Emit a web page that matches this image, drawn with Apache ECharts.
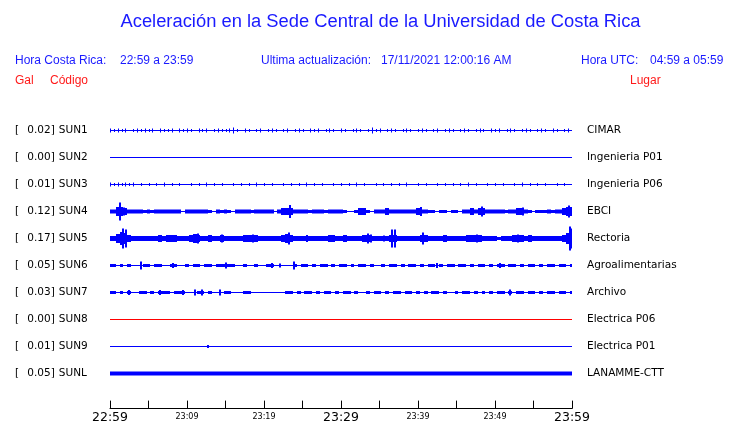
<!DOCTYPE html>
<html>
<head>
<meta charset="utf-8">
<script src="https://cdn.jsdelivr.net/npm/echarts@6/dist/echarts.min.js"></script>
<style>
html,body{margin:0;padding:0;background:#fff;}
#chart{width:740px;height:423px;}
</style>
</head>
<body>
<div id="chart"></div>
<script>
// ---------------- data ----------------
const codes  = ['SUN1','SUN2','SUN3','SUN4','SUN5','SUN6','SUN7','SUN8','SUN9','SUNL'];
const peakGal = ['0.02','0.00','0.01','0.12','0.17','0.05','0.03','0.00','0.01','0.05'];
const places = ['CIMAR','Ingenieria P01','Ingenieria P06','EBCI','Rectoria','Agroalimentarias','Archivo','Electrica P06','Electrica P01','LANAMME-CTT'];
const xTickLabels = ['22:59','23:09','23:19','23:29','23:39','23:49','23:59']; // every 10 minutes
const SAMPLE_STEP = 0.5; // minutes between envelope samples (121 samples, 0..60 min)

// envelope heights (one char per sample, base-36 digit = trace height)
const envSUN1 = "4343403434"+"3404334043"+"4304340343"+"3463043034"+"0343034034"+"3043403430"+"4303430363"+"4034303430"+"3430340343"+"0343034304"+"3403430343"+"0343043034"+"3";
const envSUN2 = "0000000000"+"0000000000"+"0000000000"+"0000000000"+"0000000000"+"0000000000"+"0000000000"+"0000000000"+"0000000000"+"0000000000"+"0000000000"+"0000000000"+"0";
const envSUN3 = "4343434030"+"3030403030"+"0303040303"+"0030303040"+"3030030303"+"0403030030"+"3030403003"+"0303030400"+"3030030303"+"0304030030"+"3030030403"+"0303003030"+"3";
const envSUN4 = "4499744443"+"4344444440"+"4444443043"+"4304444344"+"4440477744"+"4434443444"+"4300377304"+"4474444444"+"7443303303"+"3044747744"+"4443447743"+"0333434479"+"9";
const envSUN5 = "559db75555"+"5557577755"+"5797557557"+"5555577775"+"5555579755"+"5555555775"+"5755557755"+"5557755555"+"5775555755"+"5557777555"+"5355577757"+"555555557b"+"d";
const envSUN6 = "3303030003"+"3033003300"+"3033033033"+"3330030030"+"0330000030"+"3303033030"+"3303033030"+"0303303033"+"0303303033"+"0330303303"+"0330330303"+"3030330330"+"3";
const envSUN7 = "3303030033"+"0303330333"+"0003303000"+"3300033000"+"0000003303"+"0330303303"+"0330300303"+"3030330330"+"3030330300"+"3033030303"+"0330303303"+"30303303303";
const envSUN8 = "0000000000"+"0000000000"+"0000000000"+"0000000000"+"0000000000"+"0000000000"+"0000000000"+"0000000000"+"0000000000"+"0000000000"+"0000000000"+"0000000000"+"0";
const envSUN9 = "0000000000"+"0000000000"+"0000000000"+"0000000000"+"0000000000"+"0000000000"+"0000000000"+"0000000000"+"0000000000"+"0000000000"+"0000000000"+"0000000000"+"0";
const envSUNL = "4444444444"+"4444444444"+"4444444444"+"4444444444"+"4444444444"+"4444444444"+"4444444444"+"4444444444"+"4444444444"+"4444444444"+"4444444444"+"4444444444"+"4";

// isolated peaks: [minute, height]
const spikesSUN1 = [];
const spikesSUN2 = [];
const spikesSUN3 = [];
const spikesSUN4 = [[1.3,18],[1.8,8],[23.4,13],[40.4,9],[48.3,10],[53.6,8],[59.6,12]];
const spikesSUN5 = [[1.65,20],[2.08,18],[11.4,10],[14.6,8],[18.6,8],[23.2,12],[25.6,7],[33.5,10],[33.9,8],[35.6,6],[36.6,18],[37.0,18],[40.6,12],[47.7,8],[53.0,8],[59.7,24],[60,20]];
const spikesSUN6 = [[4.0,8],[8.2,5],[15.1,6],[21.0,5],[22.1,4],[23.9,8],[42.5,5],[50.6,5]];
const spikesSUN7 = [[2.5,5],[6.5,5],[9.5,5],[11,6],[12,6],[14.3,6],[52,6]];
const spikesSUN8 = [];
const spikesSUN9 = [[12.7,3]];
const spikesSUNL = [];

const envelopes = [envSUN1,envSUN2,envSUN3,envSUN4,envSUN5,envSUN6,envSUN7,envSUN8,envSUN9,envSUNL];
const spikes = [spikesSUN1,spikesSUN2,spikesSUN3,spikesSUN4,spikesSUN5,spikesSUN6,spikesSUN7,spikesSUN8,spikesSUN9,spikesSUNL];

// ---------------- style ----------------
const BLUE = '#0000ff', RED = '#ff0000';
const traceColor = [BLUE,BLUE,BLUE,BLUE,BLUE,BLUE,BLUE,RED,BLUE,BLUE];
const traceMode  = ['tick','tick','tick','block','block','block','block','tick','tick','block'];
const AMP_UNIT = 1/27;   // height unit in rows
const HEAD_BLUE = '#1a1aff', HEAD_RED = '#ff1a1a';
const FONT = 'DejaVu Sans';
const HFONT = 'Liberation Sans';

const chart = echarts.init(document.getElementById('chart'), null, {renderer:'canvas'});

function envRender(mode, color){
  return function(params, api){
    const h = api.value(2);
    if (!(h > 0)) return null;
    const p = api.coord([api.value(0), api.value(1)]);
    const cs = params.coordSys;
    const hp = Math.round(api.size([0, h*AMP_UNIT])[1]);
    let x0, x1;
    if (mode === 'tick') { x0 = Math.round(p[0]); x1 = x0 + 1; }
    else {
      const w = api.size([SAMPLE_STEP, 0])[0];
      x0 = Math.round(p[0] - w/2); x1 = Math.round(p[0] + w/2);
    }
    x0 = Math.max(x0, Math.round(cs.x)); x1 = Math.min(x1, Math.round(cs.x + cs.width));
    if (x1 <= x0) return null;
    return {type:'rect', shape:{x:x0, y:p[1]-hp/2, width:x1-x0, height:hp}, style:{fill:color}};
  };
}
function spikeRender(color){
  return function(params, api){
    const p = api.coord([api.value(0), api.value(1)]);
    const cs = params.coordSys;
    const hp = Math.round(api.size([0, api.value(2)*AMP_UNIT])[1]);
    let x0 = Math.round(p[0]) - 1;
    x0 = Math.min(Math.max(x0, Math.round(cs.x)), Math.round(cs.x + cs.width) - 2);
    return {type:'rect', shape:{x:x0, y:p[1]-hp/2, width:2, height:hp}, style:{fill:color}};
  };
}

const series = [];
codes.forEach((c, k) => {
  const row = k + 1;
  const color = traceColor[k];
  series.push({
    type:'line', data:[[0,row],[60,row]], symbol:'none', silent:true,
    lineStyle:{width:1, color:color}, animation:false, z:2
  });
  const envData = envelopes[k].split('').map((ch, i) => [i*SAMPLE_STEP, row, parseInt(ch, 36)]);
  series.push({
    type:'custom', renderItem: envRender(traceMode[k], color), data: envData,
    silent:true, animation:false, z:3
  });
  if (spikes[k].length) {
    series.push({
      type:'custom', renderItem: spikeRender(color),
      data: spikes[k].map(s => [s[0], row, s[1]]), silent:true, animation:false, z:4
    });
  }
});

function rowIndex(v){
  const k = Math.round(v);
  if (Math.abs(v - k) > 1e-6 || k < 1 || k > codes.length) return -1;
  return k - 1;
}

function htext(text, x, y, color, size, align){
  return {type:'text', x:x, y:y, silent:true,
    style:{text:text, fill:color, font: size + 'px "' + HFONT + '"', fontSize:size, fontFamily:HFONT,
      align: align || 'left', textAlign: align || 'left', verticalAlign:'middle', textVerticalAlign:'middle'}};
}

const option = {
  animation:false,
  backgroundColor:'#ffffff',
  grid:{left:110, width:462, top:103.5, height:305.1, containLabel:false, outerBoundsMode:'none'},
  xAxis:{
    type:'value', min:0, max:60, interval:5,
    axisLine:{show:true, onZero:false, lineStyle:{color:'#000', width:1}},
    axisTick:{show:true, inside:true, length:8, lineStyle:{color:'#000', width:1}},
    splitLine:{show:false},
    axisLabel:{
      show:true, margin:3, showMinLabel:true, showMaxLabel:true, hideOverlap:false,
      formatter:function(v){
        if (Math.abs(v % 10) > 1e-6) return '';
        const idx = Math.round(v/10);
        return (idx % 3 === 0 ? '{big|' : '{small|') + xTickLabels[idx] + '}';
      },
      rich:{
        big:{fontFamily:FONT, fontSize:12.5, color:'#000'},
        small:{fontFamily:FONT, fontSize:8, color:'#000', padding:[1,0,0,0]}
      }
    }
  },
  yAxis:[
    {
      type:'value', min:0, max:11.3, interval:1, inverse:true, position:'left',
      axisLine:{show:false}, axisTick:{show:false}, splitLine:{show:false},
      axisLabel:{
        show:true, align:'left', margin:95, showMinLabel:true, showMaxLabel:true,
        formatter:function(v){
          const k = rowIndex(v);
          if (k < 0) return '';
          return '{b|[}{v|' + peakGal[k] + ']}{s|' + codes[k] + '}';
        },
        rich:{
          b:{fontFamily:FONT, fontSize:10.5, color:'#000', width:12.3},
          v:{fontFamily:FONT, fontSize:10.5, color:'#000'},
          s:{fontFamily:FONT, fontSize:10.5, color:'#000', padding:[0,0,0,4]}
        }
      }
    },
    {
      type:'value', min:0, max:11.3, interval:1, inverse:true, position:'right',
      axisLine:{show:false}, axisTick:{show:false}, splitLine:{show:false},
      axisLabel:{
        show:true, align:'left', margin:15,
        fontFamily:FONT, fontSize:10.5, color:'#000',
        formatter:function(v){ const k = rowIndex(v); return k < 0 ? '' : places[k]; }
      }
    }
  ],
  graphic:[
    htext('Aceleración en la Sede Central de la Universidad de Costa Rica', 380.5, 22, HEAD_BLUE, 18.35, 'center'),
    htext('Hora Costa Rica:', 15, 61, HEAD_BLUE, 12),
    htext('22:59 a 23:59', 120, 61, HEAD_BLUE, 12),
    htext('Ultima actualización:', 261, 61, HEAD_BLUE, 12),
    htext('17/11/2021 12:00:16 AM', 381, 61, HEAD_BLUE, 12),
    htext('Hora UTC:', 581, 61, HEAD_BLUE, 12),
    htext('04:59 a 05:59', 650, 61, HEAD_BLUE, 12),
    htext('Gal', 15, 81, HEAD_RED, 12),
    htext('Código', 50, 81, HEAD_RED, 12),
    htext('Lugar', 630, 81, HEAD_RED, 12)
  ],
  series: series
};
chart.setOption(option);
</script>
</body>
</html>
